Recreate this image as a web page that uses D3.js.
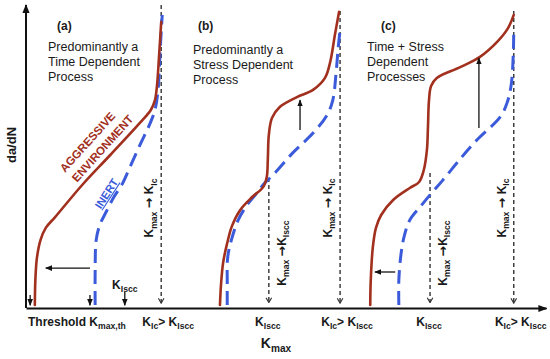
<!DOCTYPE html>
<html lang="en">
<head>
<meta charset="UTF-8">
<title>Fatigue crack growth regimes</title>
<script src="https://d3js.org/d3.v7.min.js"></script>
<style>
  body { margin: 0; background: #fff; }
  svg { font-family: "Liberation Sans", Arial, sans-serif; }
  .curve { fill: none; stroke-linejoin: round; }
  .aggressive { stroke: #a2301e; stroke-width: 2.6; stroke-linecap: round; }
  .inert { stroke: #3b5bdb; stroke-width: 3; stroke-dasharray: 14 7; }
  .guide { stroke: #333; stroke-width: 1.4; stroke-dasharray: 4 3; fill: none; }
  .note { font-size: 12.5px; fill: #1a1a1a; }
  .lbl { font-size: 12px; font-weight: bold; fill: #1a1a1a; }
  .axis path { stroke: #111; stroke-width: 2; }
</style>
</head>
<body>
<svg width="550" height="359"></svg>
<script>
    // Panel captions
    const panelTags = ["(a)", "(b)", "(c)"];
    const panelTitles = [
        ["Predominantly a", "Time Dependent", "Process"],
        ["Predominantly a", "Stress Dependent", "Process"],
        ["Time + Stress", "Dependent", "Processes"]
    ];

    // Curves as [K_max, da/dN] in relative units (0-100)
    const aggressiveA = [[1.7,1.0],[1.8,9.3],[2.1,16.7],[2.8,22.7],[3.8,26.7],[5.6,30.3],[10.8,41.0],
        [16.2,51.0],[21.9,61.7],[24.0,66.0],[24.8,69.3],[25.2,74.3],[25.6,84.3],[26.0,95.3]];
    const inertA = [[13.3,1.0],[13.3,12.7],[13.5,22.7],[14.2,27.7],[15.4,32.0],[16.9,37.0],[18.5,41.3],
        [20.0,47.0],[21.9,54.3],[23.8,61.3],[24.8,66.0],[25.4,72.7],[25.8,86.0],[26.2,97.7]];
    const aggressiveB = [[37.3,1.0],[37.5,7.7],[37.9,15.0],[38.7,21.7],[39.6,27.3],[41.2,32.7],[43.5,37.0],
        [45.6,40.3],[46.3,43.7],[46.5,49.3],[46.7,57.7],[47.3,63.3],[48.8,67.0],[52.1,70.3],[55.2,72.7],
        [57.5,76.7],[58.5,82.0],[59.4,91.0],[60.2,98.7]];
    const inertB = [[38.7,1.0],[38.7,7.7],[38.8,17.0],[39.6,23.3],[40.8,29.3],[42.5,34.3],[44.4,38.3],
        [45.9,41.7],[47.5,44.3],[51.3,51.7],[55.2,58.3],[57.9,64.3],[59.0,69.3],[59.6,77.7],[60.0,86.0],[60.4,92.7]];
    const aggressiveC = [[66.2,1.0],[66.3,9.3],[66.7,20.3],[67.3,26.7],[68.3,31.0],[70.6,36.0],[73.8,40.0],
        [75.6,42.0],[76.5,46.0],[77.1,52.7],[77.3,60.3],[77.5,69.3],[77.9,74.0],[79.0,76.7],[83.5,80.3],
        [87.3,83.7],[90.6,88.7],[92.7,93.3],[93.8,97.7]];
    const inertC = [[71.7,1.0],[71.7,9.3],[72.1,17.7],[72.7,23.7],[73.8,29.3],[75.8,33.7],[77.7,37.7],
        [80.0,42.3],[83.8,50.3],[86.7,56.0],[91.2,63.7],[92.5,68.3],[93.3,74.3],[93.7,84.3],[93.8,92.7]];

    // Characteristic K levels
    const kIc = [26.0, 60.4, 93.8];
    const kIscc = [46.7, 77.7];
    const kIsccTop = [43.3, 45.0];
    const kIsccA = 19.0;
    const thresholds = [0.8, 12.3];

    // Shift arrows [x1, y1, x2, y2]
    const shifts = [[12.3,13.3,3.8,13.3],[52.7,59.3,52.7,69.3],[87.1,60.0,87.1,83.3],[71.0,12.0,67.1,12.0]];

    const svg = d3.select("svg");
    const x = d3.scaleLinear().domain([0, 100]).range([26, 546]);
    const y = d3.scaleLinear().domain([0, 100]).range([308, 8]);

    const defs = svg.append("defs");
    defs.append("marker").attr("id", "solid").attr("viewBox", "0 0 10 10")
        .attr("refX", 9).attr("refY", 5).attr("markerWidth", 7).attr("markerHeight", 7)
        .attr("markerUnits", "userSpaceOnUse").attr("orient", "auto")
        .append("path").attr("d", "M0,1 L10,5 L0,9 z").attr("fill", "#111");
    defs.append("marker").attr("id", "axisHead").attr("viewBox", "0 0 10 10")
        .attr("refX", 9).attr("refY", 5).attr("markerWidth", 9).attr("markerHeight", 9)
        .attr("markerUnits", "userSpaceOnUse").attr("orient", "auto")
        .append("path").attr("d", "M0,1 L10,5 L0,9 z").attr("fill", "#111");
    defs.append("marker").attr("id", "open").attr("viewBox", "0 0 10 10")
        .attr("refX", 9).attr("refY", 5).attr("markerWidth", 7).attr("markerHeight", 7)
        .attr("markerUnits", "userSpaceOnUse").attr("orient", "auto")
        .append("path").attr("d", "M2,1 L9,5 L2,9").attr("fill", "none")
        .attr("stroke", "#333").attr("stroke-width", 1.6);

    // Axes
    svg.append("g").attr("class", "axis").attr("transform", `translate(0,${y(0)})`)
        .call(d3.axisBottom(x).tickValues([]).tickSizeOuter(0))
        .select("path").attr("marker-end", "url(#axisHead)");
    svg.append("g").attr("class", "axis").attr("transform", `translate(${x(0)},0)`)
        .call(d3.axisLeft(y).tickValues([]).tickSizeOuter(0))
        .select("path").attr("d", `M0,${y(0)}V5`).attr("marker-end", "url(#axisHead)");

    // Guide lines
    kIc.forEach((k, i) => {
        svg.append("line").attr("class", "guide")
            .attr("x1", x(k)).attr("x2", x(k))
            .attr("y1", y(i === 0 ? 101 : 99)).attr("y2", y(1.6))
            .attr("marker-end", "url(#open)");
    });
    kIscc.forEach((k, i) => {
        svg.append("line").attr("class", "guide")
            .attr("x1", x(k)).attr("x2", x(k))
            .attr("y1", y(kIsccTop[i])).attr("y2", y(1.8))
            .attr("marker-end", "url(#open)");
    });

    // Curves
    const line = d3.line().x(d => x(d[0])).y(d => y(d[1])).curve(d3.curveCatmullRom.alpha(0.5));
    [inertA, inertB, inertC].forEach(c =>
        svg.append("path").datum(c).attr("class", "curve inert").attr("d", line));
    [aggressiveA, aggressiveB, aggressiveC].forEach(c =>
        svg.append("path").datum(c).attr("class", "curve aggressive").attr("d", line));

    // Shift arrows and threshold markers
    shifts.forEach(s => {
        svg.append("line").attr("x1", x(s[0])).attr("y1", y(s[1]))
            .attr("x2", x(s[2])).attr("y2", y(s[3]))
            .attr("stroke", "#111").attr("stroke-width", 1.3).attr("marker-end", "url(#solid)");
    });
    thresholds.concat([kIsccA]).forEach((k, i) => {
        svg.append("line").attr("x1", x(k)).attr("x2", x(k))
            .attr("y1", y(i === 2 ? 5.3 : 4.3)).attr("y2", y(0.9))
            .attr("stroke", "#111").attr("stroke-width", 1.3).attr("marker-end", "url(#solid)");
    });

    // Rich text helper: parts = [text, kind] with kind "" | "sub" | "arrow"
    function rich(t, parts, size) {
        let sub = false;
        parts.forEach(([s, kind]) => {
            const isSub = kind === "sub";
            const sp = t.append("tspan").text(s).attr("font-size", isSub ? size * 0.72 : size);
            if (kind === "arrow") sp.attr("font-family", "DejaVu Sans").attr("font-size", size * 1.05);
            if (isSub && !sub) sp.attr("dy", size * 0.28);
            if (!isSub && sub) sp.attr("dy", -size * 0.28);
            sub = isSub;
        });
        return t;
    }

    // Panel captions
    const tagX = [57, 198, 381], titleX = [48, 193, 367], titleY = [51, 54, 51];
    panelTags.forEach((p, i) => {
        svg.append("text").attr("class", "lbl").attr("x", tagX[i]).attr("y", 30).text(p);
        panelTitles[i].forEach((s, j) => {
            svg.append("text").attr("class", "note").attr("x", titleX[i])
                .attr("y", titleY[i] + j * 15).text(s);
        });
    });

    // Bottom labels
    const kIcLbl = [["K", ""], ["Ic", "sub"], ["> K", ""], ["Iscc", "sub"]];
    const kIsccLbl = [["K", ""], ["Iscc", "sub"]];
    kIc.forEach(k => {
        rich(svg.append("text").attr("class", "lbl").attr("text-anchor", "middle")
            .attr("x", x(k) + 7).attr("y", 326), kIcLbl, 12);
    });
    kIscc.forEach(k => {
        rich(svg.append("text").attr("class", "lbl").attr("text-anchor", "middle")
            .attr("x", x(k) - 1).attr("y", 326), kIsccLbl, 12);
    });
    rich(svg.append("text").attr("class", "lbl").attr("x", 28).attr("y", 326),
        [["Threshold K", ""], ["max,th", "sub"]], 12);
    rich(svg.append("text").attr("class", "lbl").attr("text-anchor", "middle")
        .attr("x", x(kIsccA)).attr("y", 289), kIsccLbl, 12);

    // Axis titles
    rich(svg.append("text").attr("class", "lbl").attr("text-anchor", "middle")
        .attr("x", 276).attr("y", 348), [["K", ""], ["max", "sub"]], 14);
    svg.append("text").attr("class", "lbl")
        .attr("transform", "translate(16,145) rotate(-90)").attr("text-anchor", "middle")
        .style("font-size", "13px").text("da/dN");

    // Rotated K_max labels
    kIc.forEach(k => {
        rich(svg.append("text").attr("class", "lbl").attr("text-anchor", "middle")
            .attr("transform", `translate(${x(k) - 8},208) rotate(-90)`),
            [["K", ""], ["max", "sub"], [" ", ""], ["\u2192", "arrow"], [" K", ""], ["Ic", "sub"]], 12);
    });
    kIscc.forEach(k => {
        rich(svg.append("text").attr("class", "lbl").attr("text-anchor", "middle")
            .attr("transform", `translate(${x(k) + 17},253) rotate(-90)`),
            [["K", ""], ["max", "sub"], [" ", ""], ["\u2192", "arrow"], ["K", ""], ["Iscc", "sub"]], 12);
    });

    // Curve labels
    const env = svg.append("g").attr("fill", "#a2301e").attr("font-weight", "bold").attr("font-size", 11.5);
    env.append("text").attr("text-anchor", "middle")
        .attr("transform", "translate(87.5,142) rotate(-48)").attr("dy", "0.35em").text("AGGRESSIVE");
    env.append("text").attr("text-anchor", "middle")
        .attr("transform", "translate(102.5,148.5) rotate(-48)").attr("dy", "0.35em").text("ENVIRONMENT");
    svg.append("text").attr("fill", "#3b5bdb").attr("font-weight", "bold").attr("font-size", 11)
        .attr("text-decoration", "underline").attr("text-anchor", "middle")
        .attr("transform", "translate(106.5,193.5) rotate(-57)").attr("dy", "0.35em").text("INERT");
</script>
</body>
</html>
